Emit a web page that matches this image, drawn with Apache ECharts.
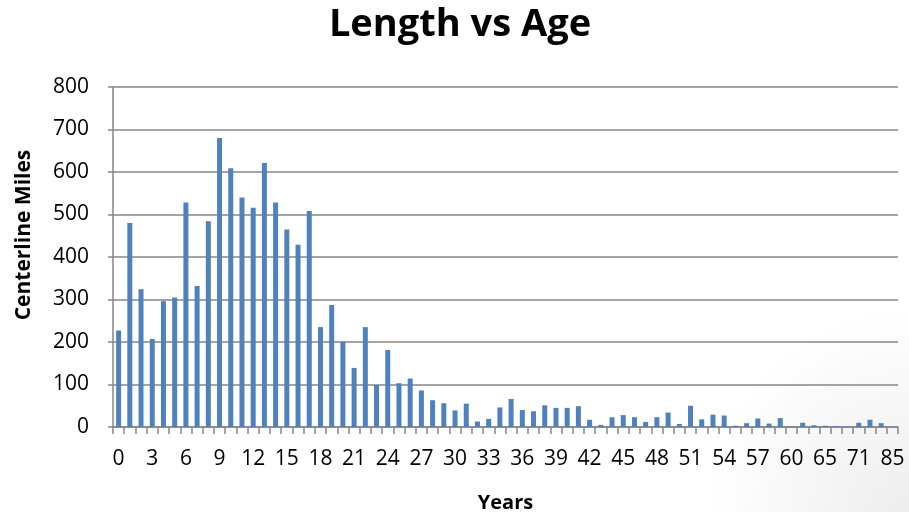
<!DOCTYPE html>
<html>
<head>
<meta charset="utf-8">
<script src="https://cdn.jsdelivr.net/npm/echarts@6/dist/echarts.min.js"></script>
<style>html,body{margin:0;padding:0;background:#fff;}#c{width:909px;height:512px;}</style>
</head>
<body>
<div id="c"></div>
<script>
const titleText = "Length vs Age";
const xAxisName = "Years";
const yAxisName = "Centerline Miles";
const years = ["0","1","2","3","4","5","6","7","8","9","10","11","12","13","14","15","16","17","18","19","20",
  "21","22","23","24","25","26","27","28","29","30","31","32","33","34","35","36","37","38","39","40",
  "41","42","43","44","45","46","47","48","49","50","51","52","53","54","55","56","57","58","59","60",
  "62","64","65","67","69","71","75","80","85"];
const miles = [227,480,324,207,296,305,528,332,484,680,609,540,516,621,528,465,429,508,235,287,201,
  139,235,99,181,103,114,86,63,56,39,55,13,19,46,66,40,37,51,45,45,
  49,17,5,23,28,23,12,23,34,7,50,18,29,27,3,9,20,8,21,1,
  10,4,3,2,1,10,17,9,1];
const yTicks = {min: 0, max: 800, interval: 100};

const chart = echarts.init(document.getElementById('c'), null, {renderer: 'canvas'});
const font = "'Open Sans', sans-serif";
chart.setOption({
  backgroundColor: '#ffffff',
  animation: false,
  graphic: [{
    type: 'rect', z: -10, silent: true,
    shape: {x: 0, y: 0, width: 909, height: 512},
    style: {
      fill: new echarts.graphic.RadialGradient(1, 1, 0.4, [
        {offset: 0, color: 'rgba(0,0,0,0.07)'},
        {offset: 1, color: 'rgba(0,0,0,0)'}
      ])
    }
  }],
  title: {
    text: titleText, left: 455, top: 1, textAlign: 'center',
    textStyle: {fontFamily: font, fontWeight: 'bold', fontSize: 38, color: '#000'}
  },
  grid: {left: 113, right: 11, top: 87, bottom: 85, containLabel: false, outerBoundsMode: 'none'},
  xAxis: {
    type: 'category', data: years, boundaryGap: true,
    name: xAxisName, nameLocation: 'middle', nameGap: 66,
    nameTextStyle: {fontFamily: font, fontWeight: 'bold', fontSize: 20, color: '#000'},
    axisLine: {lineStyle: {color: '#868686', width: 1.5}},
    axisTick: {show: true, interval: 0, length: 7, lineStyle: {color: '#868686', width: 1.5}},
    axisLabel: {interval: 2, margin: 22, fontFamily: font, fontSize: 21, color: '#000'},
    splitLine: {show: false}
  },
  yAxis: {
    type: 'value', min: yTicks.min, max: yTicks.max, interval: yTicks.interval,
    name: yAxisName, nameLocation: 'middle', nameGap: 78, nameRotate: 90,
    nameTextStyle: {fontFamily: font, fontWeight: 'bold', fontSize: 21, color: '#000', padding: [0, 0, 0, 44]},
    axisLine: {show: true, lineStyle: {color: '#868686', width: 1.5}},
    axisTick: {show: true, length: 5, lineStyle: {color: '#868686', width: 1.5}},
    axisLabel: {margin: 24, fontFamily: font, fontSize: 21, color: '#000'},
    splitLine: {show: true, lineStyle: {color: '#868686', width: 1.5}}
  },
  series: [{
    type: 'bar', data: miles, barWidth: 5,
    itemStyle: {color: '#4F81BD'}
  }]
});
</script>
</body>
</html>
